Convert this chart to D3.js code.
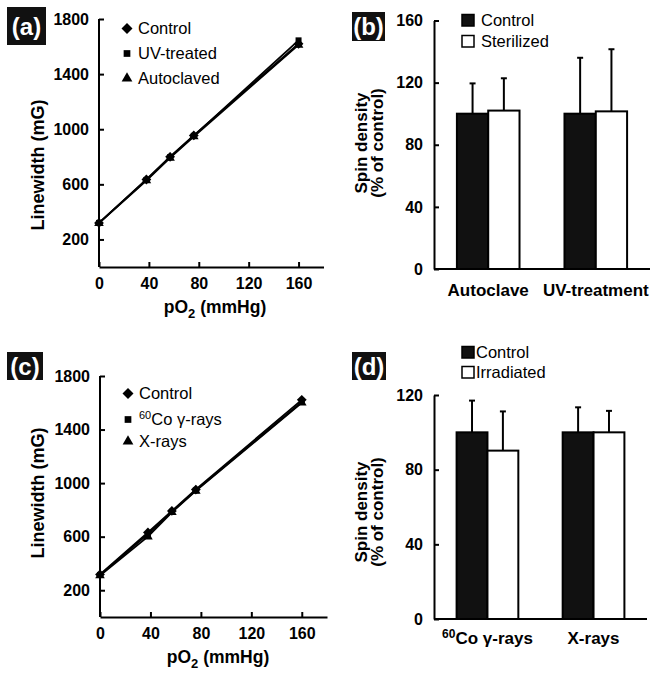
<!DOCTYPE html>
<html><head><meta charset="utf-8">
<script src="https://cdn.jsdelivr.net/npm/d3@7"></script>
<style>body{margin:0;background:#fff}svg{display:block}text{font-family:"Liberation Sans",Arial,sans-serif}</style>
</head><body><svg id="c" width="669" height="678"></svg>
<script>
// ---------- data ----------
const pO2 = [0, 38, 57, 76, 160];
const xTicks = [0, 40, 80, 120, 160];
const yTicksLW = [200, 600, 1000, 1400, 1800];
// panel (a)
const aControl = [320, 635, 800, 955, 1620];
const aUV = [320, 632, 797, 952, 1645];
const aAuto = [318, 628, 792, 947, 1612];
const aNames = ["Control", "UV-treated", "Autoclaved"];
// panel (c)
const cControl = [318, 632, 792, 952, 1622];
const cCo = [314, 620, 786, 946, 1606];
const cX = [310, 600, 782, 942, 1600];
const cNames = ["Control", "Co γ-rays", "X-rays"];
// panel (b)
const bCats = ["Autoclave", "UV-treatment"];
const bControl = [100, 100];
const bControlErr = [19.5, 36];
const bSter = [102, 101.5];
const bSterErr = [20.8, 40];
const bTicks = [0, 40, 80, 120, 160];
const bNames = ["Control", "Sterilized"];
// panel (d)
const dCats = ["Co γ-rays", "X-rays"];
const dControl = [100, 100];
const dControlErr = [17, 13.4];
const dIrr = [90.2, 100];
const dIrrErr = [21, 11.5];
const dTicks = [0, 40, 80, 120];
const dNames = ["Control", "Irradiated"];

const svg = d3.select("#c");
const FS = 16;

function panelLabel(txt, x, y, w, h) {
  svg.append("rect").attr("x", x).attr("y", y).attr("width", w).attr("height", h).attr("fill", "#111");
  svg.append("text").attr("x", x + w / 2).attr("y", y + h / 2 + 8.5).attr("text-anchor", "middle")
    .attr("fill", "#fff").attr("font-weight", "bold").attr("font-size", 24).text(txt);
}

function styleAxis(g) {
  g.select(".domain").attr("stroke", "#000").attr("stroke-width", 2);
  g.selectAll(".tick line").attr("stroke", "#000").attr("stroke-width", 2);
  g.selectAll(".tick text").attr("font-size", FS).attr("font-weight", "bold").attr("fill", "#000")
    .attr("font-family", '"Liberation Sans",Arial,sans-serif');
}

const diamond = {draw(ctx, size) { const r = Math.sqrt(size) / 1.414 * 1.0; ctx.moveTo(0, -r); ctx.lineTo(r, 0); ctx.lineTo(0, r); ctx.lineTo(-r, 0); ctx.closePath(); }};
const symbols = [diamond, d3.symbolSquare, d3.symbolTriangle];
const symSize = [60, 45, 50];

function linePanel(cfg) {
  const x = d3.scaleLinear().domain([0, 180]).range([cfg.x0, cfg.x1]);
  const y = d3.scaleLinear().domain([0, 1800]).range([cfg.y0, cfg.y1]);
  const gx = svg.append("g").attr("transform", `translate(0,${cfg.y0})`)
    .call(d3.axisBottom(x).tickValues(xTicks).tickFormat(d3.format("d")).tickSizeInner(-5).tickSizeOuter(0).tickPadding(11));
  styleAxis(gx);
  const gy = svg.append("g").attr("transform", `translate(${cfg.x0},0)`)
    .call(d3.axisLeft(y).tickValues(yTicksLW).tickFormat(d3.format("d")).tickSizeInner(-5).tickSizeOuter(0).tickPadding(10));
  styleAxis(gy);
  gy.select(".domain").attr("d", `M0,${y(0)}V${y(1800)}`);
  const line = d3.line().x((d, i) => x(pO2[i])).y(d => y(d));
  cfg.series.forEach((s) => {
    svg.append("path").datum(s).attr("d", line).attr("fill", "none").attr("stroke", "#000").attr("stroke-width", 1.8);
  });
  cfg.series.forEach((s, k) => {
    svg.append("g").selectAll("path").data(s).join("path")
      .attr("transform", (d, i) => `translate(${x(pO2[i])},${y(d)})`)
      .attr("d", d3.symbol(symbols[k], symSize[k] * 0.8)).attr("fill", "#000");
  });
  cfg.names.forEach((n, k) => {
    const ly = cfg.legY[k];
    svg.append("path").attr("transform", `translate(${cfg.legX},${ly - 5.5})`)
      .attr("d", d3.symbol(symbols[k], symSize[k])).attr("fill", "#000");
    const t = svg.append("text").attr("x", cfg.legX + 11).attr("y", ly).attr("font-size", 16.5).attr("fill", "#000");
    if (cfg.sup && k === 1) {
      t.append("tspan").attr("font-size", 11).attr("dy", -6).text("60");
      t.append("tspan").attr("dy", 6).text(n);
    } else t.text(n);
  });
  const tx = svg.append("text").attr("x", cfg.xtX).attr("y", cfg.xtY).attr("text-anchor", "middle")
    .attr("font-size", 17.5).attr("font-weight", "bold");
  tx.append("tspan").text("pO");
  tx.append("tspan").attr("font-size", 13).attr("dy", 5).text("2");
  tx.append("tspan").attr("dy", -5).text(" (mmHg)");
  svg.append("text").attr("transform", `translate(${cfg.ytX},${cfg.ytY}) rotate(-90)`).attr("text-anchor", "middle")
    .attr("font-size", 18).attr("font-weight", "bold").text("Linewidth (mG)");
}

function barPanel(cfg) {
  const x = d3.scaleBand().domain(cfg.cats).range([cfg.x0, cfg.x1]).paddingInner(0.418).paddingOuter(0.213);
  const xs = d3.scaleBand().domain([0, 1]).range([0, x.bandwidth()]).padding(0);
  const y = d3.scaleLinear().domain([0, cfg.ymax]).range([cfg.y0, cfg.y1]);
  const vals = [cfg.s0, cfg.s1], errs = [cfg.e0, cfg.e1];
  const fills = ["#111", "#fff"];
  [0, 1].forEach(k => {
    cfg.cats.forEach((c, i) => {
      const cx = x(c) + xs(k) + xs.bandwidth() / 2;
      const top = y(vals[k][i] + errs[k][i]);
      svg.append("line").attr("x1", cx).attr("x2", cx).attr("y1", y(vals[k][i])).attr("y2", top)
        .attr("stroke", "#000").attr("stroke-width", 2);
      svg.append("line").attr("x1", cx - 3).attr("x2", cx + 3).attr("y1", top).attr("y2", top)
        .attr("stroke", "#000").attr("stroke-width", 2);
    });
  });
  [0, 1].forEach(k => {
    svg.append("g").selectAll("rect").data(vals[k]).join("rect")
      .attr("x", (d, i) => x(cfg.cats[i]) + xs(k)).attr("width", xs.bandwidth())
      .attr("y", d => y(d)).attr("height", d => y(0) - y(d))
      .attr("fill", fills[k]).attr("stroke", "#000").attr("stroke-width", 2);
  });
  const gy = svg.append("g").attr("transform", `translate(${cfg.x0},0)`)
    .call(d3.axisLeft(y).tickValues(cfg.ticks).tickSizeInner(-5).tickSizeOuter(0).tickPadding(11));
  styleAxis(gy);
  const gx = svg.append("g").attr("transform", `translate(0,${cfg.y0})`)
    .call(d3.axisBottom(x).tickSize(0).tickFormat(""));
  styleAxis(gx);
  gx.select(".domain").attr("d", `M${cfg.x0},0H${cfg.x1}`);
  cfg.cats.forEach((c, i) => {
    const t = svg.append("text").attr("x", x(c) + x.bandwidth() / 2).attr("y", cfg.y0 + cfg.catDy)
      .attr("text-anchor", "middle").attr("font-size", 17).attr("font-weight", "bold");
    if (cfg.sup && i === 0) {
      t.append("tspan").attr("font-size", 12).attr("dy", -6).text("60");
      t.append("tspan").attr("dy", 6).text(c);
    } else t.text(c);
  });
  cfg.names.forEach((n, k) => {
    const ly = cfg.legY[k];
    svg.append("rect").attr("x", cfg.legX).attr("y", ly - 11.5).attr("width", 12).attr("height", 11.5)
      .attr("fill", fills[k]).attr("stroke", "#000").attr("stroke-width", 1.5);
    svg.append("text").attr("x", cfg.legX + cfg.legTx).attr("y", ly).attr("font-size", 16.5).text(n);
  });
  const yt = svg.append("text").attr("transform", `translate(${cfg.ytX},${cfg.ytY}) rotate(-90)`)
    .attr("text-anchor", "middle").attr("font-size", 17).attr("font-weight", "bold");
  yt.append("tspan").attr("x", 0).attr("dy", 0).text("Spin density");
  yt.append("tspan").attr("x", 0).attr("dy", 16).text("(% of control)");
}

linePanel({x0: 99, x1: 323.5, y0: 267, y1: 19, series: [aControl, aUV, aAuto], names: aNames,
  legX: 127, legY: [34, 59, 84], xtX: 215, xtY: 313, ytX: 44, ytY: 165});
linePanel({x0: 100, x1: 327, y0: 617, y1: 376, series: [cControl, cCo, cX], names: cNames, sup: true,
  legX: 128, legY: [399, 425, 447], xtX: 218, xtY: 663, ytX: 44, ytY: 493});
barPanel({cats: bCats, x0: 434, x1: 650, y0: 269, y1: 20.5, ymax: 160, ticks: bTicks,
  s0: bControl, e0: bControlErr, s1: bSter, e1: bSterErr, names: bNames, legX: 462, legTx: 19, legY: [26, 47],
  ytX: 367, ytY: 143, catDy: 27});
barPanel({cats: dCats, x0: 434, x1: 647, y0: 619, y1: 395, ymax: 120, ticks: dTicks, sup: true,
  s0: dControl, e0: dControlErr, s1: dIrr, e1: dIrrErr, names: dNames, legX: 462, legTx: 14, legY: [358, 378],
  ytX: 367, ytY: 512, catDy: 25});

panelLabel("(a)", 7, 7, 39, 38);
panelLabel("(b)", 352, 12, 33, 29);
panelLabel("(c)", 7, 352, 36, 28);
panelLabel("(d)", 352, 352, 34, 28);
</script></body></html>
